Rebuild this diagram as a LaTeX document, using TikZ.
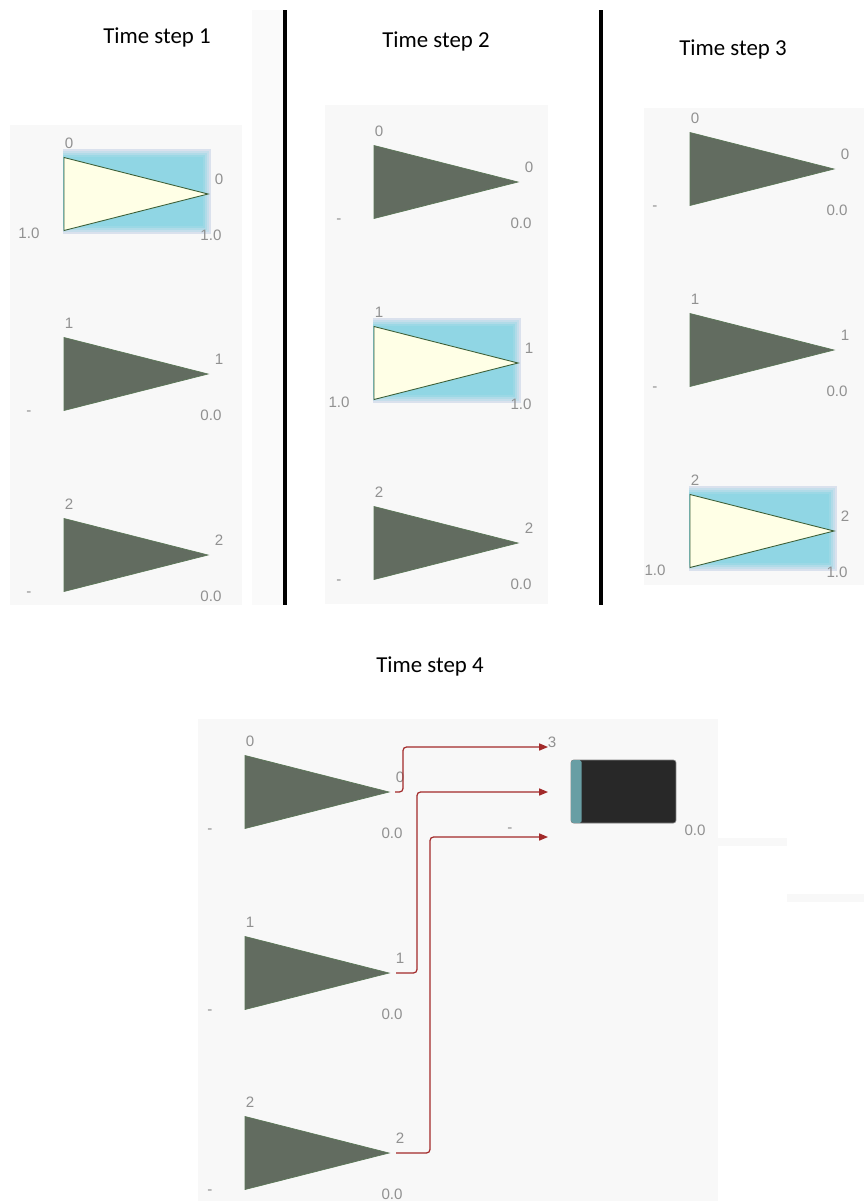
\documentclass[tikz,border=0pt]{standalone}
\usepackage{fontspec}
\setmainfont{Liberation Sans}
\newfontfamily\titlefont{Carlito}
\usepackage{xcolor}
\usetikzlibrary{shapes.geometric, arrows.meta, positioning}

\definecolor{panelbg}{RGB}{248,248,248}
\definecolor{stripbg}{RGB}{250,250,250}
\definecolor{trifill}{RGB}{98,108,96}
\definecolor{triedge}{RGB}{92,120,88}
\definecolor{hlyellow}{RGB}{255,255,230}
\definecolor{hledge}{RGB}{60,95,55}
\definecolor{hlblue}{RGB}{144,214,228}
\definecolor{hlhaze}{RGB}{226,226,238}
\definecolor{lblgrey}{RGB}{145,145,145}
\definecolor{wirered}{RGB}{162,42,42}
\definecolor{boxblack}{RGB}{40,40,40}
\definecolor{boxteal}{RGB}{104,158,164}

\begin{document}
\begin{tikzpicture}[x=0.02cm, y=-0.02cm,
    tri/.style={isosceles triangle, isosceles triangle stretches,
                shape border rotate=0, minimum width=1.46cm,
                minimum height=2.88cm, inner sep=0pt, outer sep=0pt,
                anchor=apex},
    dtri/.style={tri, fill=trifill, draw=triedge, line width=0.4pt},
    htri/.style={tri, fill=hlyellow, draw=hledge, line width=0.5pt},
    lbl/.style={font=\fontsize{8.6}{10}\selectfont, text=lblgrey, inner sep=0pt},
    title/.style={font=\titlefont\fontsize{13}{15}\selectfont, anchor=base},
    wire/.style={draw=wirered, line width=0.7pt, rounded corners=2pt,
                 -{Triangle[length=5pt,width=4pt]}},
    divider/.style={line width=2.3pt},
    blackbox/.style={rectangle, rounded corners=1.5pt, fill=boxblack,
                     draw=gray, line width=0.4pt, minimum width=2.1cm,
                     minimum height=1.26cm},
]
\useasboundingbox (0,0) rectangle (864,1201);

% panel backgrounds
\fill[panelbg] (10,125) rectangle (242,605);
\fill[stripbg] (252,10) rectangle (283,605);
\fill[panelbg] (325,105) rectangle (548,604);
\fill[panelbg] (644,108) rectangle (864,585);
\fill[panelbg] (198,719) rectangle (718,1201);
\fill[panelbg] (718,838) rectangle (787,846);
\fill[panelbg] (787,894) rectangle (864,902);

% dividers
\draw[divider] (285,10) -- (285,605);
\draw[divider] (601,10) -- (601,605);

% titles
\node[title] (ts1) at (157,43)  {Time step 1};
\node[title] (ts2) at (436,47)  {Time step 2};
\node[title] (ts3) at (733,55)  {Time step 3};
\node[title] (ts4) at (430,672) {Time step 4};

% highlight glow behind the active element
\foreach \ax/\ay in {208/194, 518/363, 834/531}
  \foreach \d/\m in {8/10, 6/35, 4/60, 2/85, 0/100}
    \fill[hlblue!\m!hlhaze] (\ax-145,\ay-37-\d) rectangle (\ax-5+\d,\ay+32+\d);

% time step 1
\node[htri] (a0) at (208,194) {};
\node[dtri] (a1) at (208,374) {};
\node[dtri] (a2) at (208,555) {};

% time step 2
\node[dtri] (b0) at (518,182) {};
\node[htri] (b1) at (518,363) {};
\node[dtri] (b2) at (518,543) {};

% time step 3
\node[dtri] (c0) at (834,169) {};
\node[dtri] (c1) at (834,350) {};
\node[htri] (c2) at (834,531) {};

% time step 4
\node[dtri] (d0) at (389,792)  {};
\node[dtri] (d1) at (389,973)  {};
\node[dtri] (d2) at (389,1153) {};

% element labels
\foreach \n/\r/\l/\v in {a0/0/1.0/1.0, a1/1/-/0.0, a2/2/-/0.0,
                         b0/0/-/0.0, b1/1/1.0/1.0, b2/2/-/0.0,
                         c0/0/-/0.0, c1/1/-/0.0, c2/2/1.0/1.0,
                         d0/0/-/0.0, d1/1/-/0.0, d2/2/-/0.0} {
  \node[lbl] (\n-id)   at ([shift={(-139,-51)}]\n.apex) {\r};
  \node[lbl] (\n-port) at ([shift={(11,-15)}]\n.apex)   {\r};
  \node[lbl] (\n-in)   at ([shift={(-179,39)}]\n.apex)  {\l};
  \node[lbl] (\n-val)  at ([shift={(3,41)}]\n.apex)     {\v};
}

% output block
\node[blackbox] (sum) at (623.5,791.5) {};
\fill[boxteal, rounded corners=1pt] ([shift={(0.5,0.5)}]sum.north west)
  rectangle ([shift={(11,-0.5)}]sum.south west);
\node[lbl] (sum-val) at (695,830) {0.0};
\node[lbl] (sum-n)   at (552,742) {3};
\node[lbl] (sum-in)  at (510,830) {-};

\coordinate (in0) at (548,747);
\coordinate (in1) at (548,792);
\coordinate (in2) at (548,837);

% wires
\draw[wire] ([shift={(6,0)}]d0.apex) -- ++(8,0)  |- (in0);
\draw[wire] ([shift={(7,0)}]d1.apex) -- ++(21,0) |- (in1);
\draw[wire] ([shift={(7,0)}]d2.apex) -- ++(34,0) |- (in2);

\end{tikzpicture}
\end{document}
